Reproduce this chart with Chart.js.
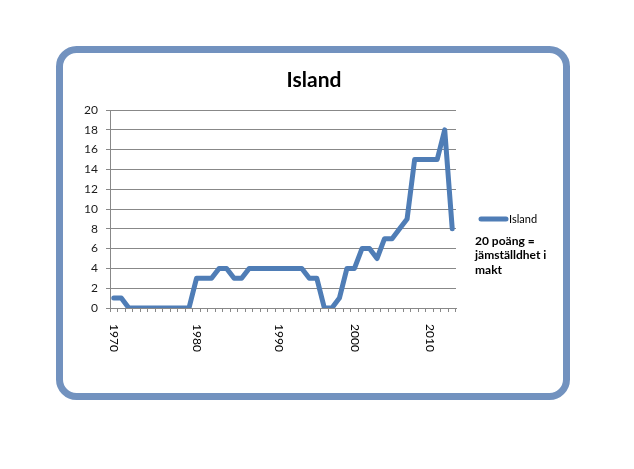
<!DOCTYPE html>
<html>
<head>
<meta charset="utf-8">
<title>Island</title>
<script src="https://cdn.jsdelivr.net/npm/chart.js@4.4.1/dist/chart.umd.min.js"></script>
<style>
  html, body { margin: 0; padding: 0; background: #ffffff; }
  canvas { display: block; }
</style>
</head>
<body>
<canvas id="island-chart" width="634" height="469"></canvas>
<script>
// categories (46 entries, one extra in the 70s and 80s)
const years = [
  '1970', '1971', '1972', '1973', '1974', '1975', '1976', '1977', '1978', '1979', '1979',
  '1980', '1981', '1982', '1983', '1984', '1985', '1986', '1987', '1987', '1988', '1989',
  '1990', '1991', '1992', '1993', '1994', '1995', '1996', '1997', '1998', '1999',
  '2000', '2001', '2002', '2003', '2004', '2005', '2006', '2007', '2008', '2009',
  '2010', '2011', '2012', '2013'
];

// poäng per category
const islandPoints = [
  1, 1, 0, 0, 0, 0, 0, 0, 0, 0, 0,
  3, 3, 3, 4, 4, 3, 3, 4, 4, 4, 4,
  4, 4, 4, 4, 3, 3, 0, 0, 1, 4,
  4, 6, 6, 5, 7, 7, 8, 9, 15, 15,
  15, 15, 18, 8
];

const shownYears = ['1970', '1980', '1990', '2000', '2010'];
const yTickValues = [0, 2, 4, 6, 8, 10, 12, 14, 16, 18, 20];

const chartTitle = 'Island';
const seriesName = 'Island';
const noteLines = ['20 poäng =', 'jämställdhet i', 'makt'];

const lineColor = '#4f7db6';
const gridColor = '#888888';
const frameColor = '#7292bf';

Chart.defaults.font.family = 'Lato, "Open Sans", sans-serif';

// ram, titel, årtal, förklaring
const frameAndText = {
  id: 'frameAndText',
  beforeDraw(chart) {
    const ctx = chart.ctx;
    ctx.save();
    ctx.fillStyle = '#ffffff';
    ctx.fillRect(0, 0, chart.width, chart.height);
    ctx.restore();
  },
  afterDraw(chart) {
    const ctx = chart.ctx;
    const xScale = chart.scales.x;
    ctx.save();

    ctx.strokeStyle = frameColor;
    ctx.lineWidth = 7;
    ctx.beginPath();
    ctx.roundRect(59.5, 49.5, 507, 347, 17);
    ctx.stroke();

    ctx.fillStyle = '#000000';
    ctx.font = 'bold 21px Lato';
    ctx.textAlign = 'center';
    ctx.textBaseline = 'middle';
    ctx.fillText(chartTitle, 314, 80);

    // årtal, roterade medurs
    ctx.font = '12px Lato';
    ctx.textAlign = 'left';
    years.forEach((year, i) => {
      if (!shownYears.includes(year) || years.indexOf(year) !== i) return;
      const x = xScale.getPixelForValue(i);
      ctx.save();
      ctx.translate(x, xScale.bottom + 12);
      ctx.rotate(Math.PI / 2);
      ctx.fillText(year, 0, 0);
      ctx.restore();
    });

    // förklaring
    ctx.strokeStyle = lineColor;
    ctx.lineWidth = 5;
    ctx.lineCap = 'round';
    ctx.beginPath();
    ctx.moveTo(481, 219);
    ctx.lineTo(506, 219);
    ctx.stroke();
    ctx.font = '11px Lato';
    ctx.fillText(seriesName, 509, 219);

    ctx.font = 'bold 12px Lato';
    noteLines.forEach((line, i) => {
      ctx.fillText(line, 475, 241 + i * 14.5);
    });

    ctx.restore();
  }
};

new Chart(document.getElementById('island-chart'), {
  type: 'line',
  data: {
    labels: years,
    datasets: [{
      label: seriesName,
      data: islandPoints,
      borderColor: lineColor,
      borderWidth: 5,
      borderJoinStyle: 'round',
      borderCapStyle: 'round',
      pointRadius: 0,
      tension: 0,
      fill: false
    }]
  },
  options: {
    responsive: false,
    animation: false,
    layout: {
      padding: { left: 0, top: 110, right: 178, bottom: 157 }
    },
    plugins: {
      legend: { display: false },
      title: { display: false },
      tooltip: { enabled: false }
    },
    scales: {
      x: {
        offset: true,
        grid: {
          offset: true,
          drawOnChartArea: false,
          drawTicks: true,
          tickLength: 4,
          color: gridColor
        },
        border: { display: true, color: gridColor, width: 1 },
        ticks: { display: false }
      },
      y: {
        min: 0,
        max: 20,
        afterBuildTicks(scale) {
          scale.ticks = yTickValues.map(v => ({ value: v }));
        },
        afterFit(scale) {
          scale.width = 110;
        },
        grid: {
          color: gridColor,
          lineWidth: 1,
          drawTicks: true,
          tickLength: 4
        },
        border: { display: true, color: gridColor, width: 1 },
        ticks: {
          color: '#1a1a1a',
          padding: 8,
          font: { size: 12 }
        }
      }
    }
  },
  plugins: [frameAndText]
});
</script>
</body>
</html>
